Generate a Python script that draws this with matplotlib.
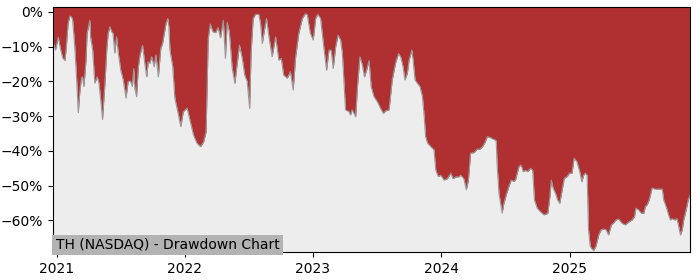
import matplotlib
matplotlib.use('agg')
import matplotlib.pyplot as plt
import matplotlib.dates as mdates
from matplotlib.ticker import PercentFormatter
import pandas as pd

# drawdown from running high, in percent
dates = [
    '2020-12-22', '2020-12-29', '2021-01-06', '2021-01-13', '2021-01-19', '2021-01-25', '2021-01-29',
    '2021-02-03', '2021-02-08', '2021-02-13', '2021-02-16', '2021-02-22', '2021-02-27', '2021-03-04',
    '2021-03-08', '2021-03-13', '2021-03-16', '2021-03-20', '2021-03-26', '2021-03-29', '2021-04-01',
    '2021-04-06', '2021-04-08', '2021-04-14', '2021-04-20', '2021-04-27', '2021-05-02', '2021-05-07',
    '2021-05-12', '2021-05-19', '2021-05-24', '2021-05-28', '2021-06-02', '2021-06-07', '2021-06-11',
    '2021-06-16', '2021-06-21', '2021-06-26', '2021-07-03', '2021-07-10', '2021-07-18', '2021-07-24',
    '2021-07-31', '2021-08-05', '2021-08-09', '2021-08-12', '2021-08-17', '2021-08-22', '2021-08-27',
    '2021-09-03', '2021-09-10', '2021-09-15', '2021-09-19', '2021-09-24', '2021-09-29', '2021-10-06',
    '2021-10-11', '2021-10-18', '2021-10-25', '2021-10-30', '2021-11-06', '2021-11-09', '2021-11-14',
    '2021-11-17', '2021-11-20', '2021-11-28', '2021-12-04', '2021-12-14', '2021-12-21', '2021-12-28',
    '2022-01-08', '2022-01-17', '2022-01-26', '2022-02-05', '2022-02-15', '2022-02-24', '2022-03-03',
    '2022-03-09', '2022-03-15', '2022-03-22', '2022-03-30', '2022-04-06', '2022-04-13', '2022-04-21',
    '2022-04-27', '2022-05-02', '2022-05-08', '2022-05-16', '2022-05-24', '2022-05-30', '2022-06-06',
    '2022-06-14', '2022-06-21', '2022-06-28', '2022-07-05', '2022-07-09', '2022-07-15', '2022-07-22',
    '2022-07-31', '2022-08-05', '2022-08-10', '2022-08-16', '2022-08-22', '2022-08-29', '2022-09-07',
    '2022-09-17', '2022-09-26', '2022-10-03', '2022-10-10', '2022-10-20', '2022-10-29', '2022-11-06',
    '2022-11-13', '2022-11-22', '2022-12-02', '2022-12-11', '2022-12-16', '2022-12-25', '2023-01-02',
    '2023-01-09', '2023-01-15', '2023-01-23', '2023-02-01', '2023-02-09', '2023-02-16', '2023-02-22',
    '2023-02-28', '2023-03-07', '2023-03-14', '2023-03-21', '2023-03-26', '2023-04-04', '2023-04-14',
    '2023-04-18', '2023-04-23', '2023-05-03', '2023-05-08', '2023-05-15', '2023-05-22', '2023-05-28',
    '2023-06-03', '2023-06-10', '2023-06-16', '2023-06-24', '2023-07-04', '2023-07-13', '2023-07-21',
    '2023-07-27', '2023-08-06', '2023-08-15', '2023-08-25', '2023-09-02', '2023-09-08', '2023-09-15',
    '2023-09-20', '2023-09-27', '2023-10-02', '2023-10-10', '2023-10-14', '2023-10-19', '2023-10-26',
    '2023-11-02', '2023-11-09', '2023-11-14', '2023-11-18', '2023-11-24', '2023-12-03', '2023-12-12',
    '2023-12-17', '2023-12-24', '2023-12-31', '2024-01-10', '2024-01-19', '2024-01-29', '2024-02-04',
    '2024-02-12', '2024-02-20', '2024-02-26', '2024-03-06', '2024-03-13', '2024-03-19', '2024-03-25',
    '2024-04-04', '2024-04-13', '2024-04-21', '2024-04-28', '2024-05-04', '2024-05-12', '2024-05-21',
    '2024-05-30', '2024-06-06', '2024-06-09', '2024-06-14', '2024-06-23', '2024-06-28', '2024-07-06',
    '2024-07-12', '2024-07-19', '2024-07-26', '2024-07-31', '2024-08-05', '2024-08-10', '2024-08-16',
    '2024-08-22', '2024-08-29', '2024-09-04', '2024-09-12', '2024-09-18', '2024-09-23', '2024-10-01',
    '2024-10-10', '2024-10-20', '2024-10-31', '2024-11-06', '2024-11-10', '2024-11-15', '2024-11-22',
    '2024-11-28', '2024-12-04', '2024-12-11', '2024-12-17', '2024-12-25', '2025-01-01', '2025-01-08',
    '2025-01-14', '2025-01-22', '2025-01-30', '2025-02-05', '2025-02-10', '2025-02-15', '2025-02-20',
    '2025-02-24', '2025-03-01', '2025-03-10', '2025-03-17', '2025-03-25', '2025-04-01', '2025-04-08',
    '2025-04-15', '2025-04-22', '2025-04-30', '2025-05-06', '2025-05-13', '2025-05-21', '2025-05-30',
    '2025-06-09', '2025-06-18', '2025-06-28', '2025-07-05', '2025-07-09', '2025-07-17', '2025-07-24',
    '2025-07-31', '2025-08-05', '2025-08-10', '2025-08-16', '2025-08-24', '2025-09-02', '2025-09-12',
    '2025-09-22', '2025-09-26', '2025-10-03', '2025-10-10', '2025-10-15', '2025-10-20', '2025-10-28',
    '2025-11-03', '2025-11-08', '2025-11-13', '2025-11-18', '2025-11-22', '2025-11-29', '2025-12-05',
    '2025-12-10',
]
drawdown = [
    -8.6, -11.0, -7.3, -11.0, -13.3, -14.0, -10.0,
    -3.3, -1.2, -1.5, -2.4, -10.0, -18.7, -29.0,
    -23.5, -19.0, -18.7, -21.5, -14.0, -6.2, -4.8,
    -2.4, -7.2, -11.0, -20.5, -18.7, -20.5, -25.4,
    -31.0, -20.5, -11.0, -6.2, -4.3, -5.7, -6.2,
    -11.9, -7.2, -11.9, -16.8, -19.6, -24.8, -20.0,
    -20.0, -21.5, -16.3, -22.0, -24.4, -15.8, -12.4,
    -9.6, -15.3, -18.7, -14.4, -14.8, -12.9, -15.8,
    -12.4, -18.7, -10.5, -9.1, -5.0, -3.3, -1.9,
    -4.3, -11.0, -15.8, -24.8, -29.5, -33.0, -28.7,
    -27.7, -31.6, -35.4, -37.8, -38.8, -37.4, -34.5,
    -7.7, -3.5, -5.7, -6.0, -4.5, -7.5, -2.4,
    -13.4, -3.0, -5.7, -16.0, -20.6, -15.3, -9.6,
    -13.4, -18.2, -20.0, -27.8, -12.0, -1.9, -0.7,
    -0.7, -3.3, -9.1, -5.3, -1.9, -7.2, -12.9,
    -7.2, -13.9, -13.4, -18.2, -19.1, -17.2, -22.5,
    -12.9, -6.2, -1.9, -0.5, -0.8, -6.2, -8.1,
    -1.9, -0.7, -1.9, -10.0, -16.8, -11.0, -11.0,
    -16.3, -10.0, -6.7, -8.1, -11.9, -28.2, -28.7,
    -29.7, -28.2, -30.2, -21.5, -12.9, -15.3, -18.7,
    -16.8, -14.0, -21.5, -24.4, -25.9, -27.8, -29.2,
    -28.5, -28.2, -19.6, -14.5, -12.0, -12.9, -15.8,
    -19.6, -17.7, -13.9, -11.0, -14.4, -19.6, -20.6,
    -21.5, -24.4, -30.0, -35.9, -37.8, -38.8, -39.7,
    -45.5, -47.4, -47.0, -48.4, -48.0, -46.4, -48.0,
    -47.5, -47.5, -47.0, -48.0, -51.2, -48.5, -40.7,
    -40.5, -39.5, -39.5, -38.8, -37.8, -35.9, -36.2,
    -36.7, -37.0, -44.5, -52.2, -57.9, -55.1, -52.2,
    -50.3, -48.4, -48.8, -48.4, -46.4, -44.5, -44.1,
    -46.0, -45.6, -46.0, -45.0, -45.6, -54.1, -56.5,
    -57.5, -58.4, -58.0, -53.2, -48.4, -50.7, -52.2,
    -54.1, -55.1, -51.2, -47.9, -47.4, -46.4, -46.4,
    -42.1, -43.1, -46.0, -48.9, -47.0, -46.4, -47.0,
    -62.7, -67.5, -68.7, -67.5, -64.2, -62.7, -62.5,
    -62.7, -64.2, -61.3, -60.8, -59.9, -59.6, -60.8,
    -61.3, -60.5, -59.9, -58.9, -56.5, -57.0, -57.9,
    -58.0, -56.0, -55.5, -54.1, -50.7, -51.0, -51.0,
    -51.0, -54.1, -56.0, -58.4, -59.9, -59.5, -59.9,
    -59.5, -61.8, -64.2, -62.7, -59.9, -57.0, -54.1,
    -52.7,
]
y_ticks = [0, -10, -20, -30, -40, -50, -60]
title = 'TH (NASDAQ) - Drawdown Chart'

x = pd.to_datetime(dates)
y_lo, y_hi = -69.1, 1.4

fig = plt.figure(figsize=(7, 2.8), dpi=100)
ax = fig.add_axes([0.0757, 0.1, 0.91, 0.875])
ax.set_facecolor('#ededed')

# red area from the top of the axes down to the drawdown, thin grey edge
ax.fill_between(x, drawdown, y_hi, color='#b03031', linewidth=0)
ax.plot(x, drawdown, color='#999999', linewidth=0.8)

ax.set_xlim(x[0], x[-1])
ax.set_ylim(y_lo, y_hi)
ax.set_yticks(y_ticks)
ax.yaxis.set_major_formatter(PercentFormatter(decimals=0))
ax.xaxis.set_major_locator(mdates.YearLocator())
ax.xaxis.set_major_formatter(mdates.DateFormatter('%Y'))
ax.tick_params(labelsize=10)

ax.text(0.004, 0.0, title, transform=ax.transAxes, ha='left', va='bottom', fontsize=10,
        bbox=dict(facecolor='#b3b3b3', edgecolor='none', pad=2.5))

fig.savefig('out.png', dpi=100)
